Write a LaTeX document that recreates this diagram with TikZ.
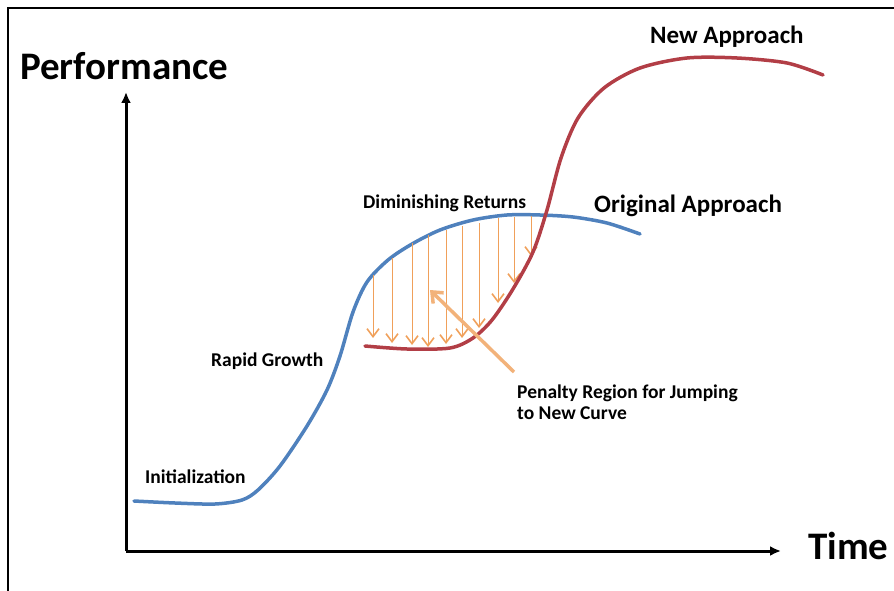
\documentclass[tikz,border=0pt]{standalone}
\usepackage{fontspec}
\setmainfont{Carlito}
\usetikzlibrary{arrows.meta}
\definecolor{origblue}{RGB}{79,129,189}
\definecolor{newred}{RGB}{178,62,70}
\definecolor{penorange}{RGB}{240,160,90}
\definecolor{jumporange}{RGB}{242,178,122}
\tikzset{
	lbl/.style={anchor=base west, inner sep=0pt, font=\bfseries\fontsize{19.5}{21}\selectfont},
	biglbl/.style={anchor=base west, inner sep=0pt, font=\bfseries\fontsize{39}{44}\selectfont},
	midlbl/.style={anchor=base west, inner sep=0pt, font=\bfseries\fontsize{25}{30}\selectfont},
	curve/.style={line width=3.5pt, line cap=round},
	drop/.style={penorange, line width=1pt, -{Straight Barb[length=8pt, width=12pt, line width=1.6pt]}},
}
\begin{document}
\begin{tikzpicture}[x=1pt, y=-1pt]
		\useasboundingbox (0,0) rectangle (894,591);
		\draw[line width=2pt] (8,591) -- (8,8) -- (894,8);

		% axes
		\coordinate (origin) at (126,551);
		\coordinate (ymax) at (126,92);
		\coordinate (xmax) at (781,551);
		\draw[line width=3pt, -{Latex[length=11pt, width=10pt]}] (origin) -- (ymax);
		\draw[line width=3pt, -{Latex[length=11pt, width=10pt]}] (origin) -- (xmax);
		\node[biglbl] (perf) at (20,80) {Performance};
		\node[biglbl] (time) at (808,559) {Time};

		% original approach
		\draw[curve, origblue] plot[smooth] coordinates {(134,501) (175,503) (215,504) (242,500)
			(258,490) (280,466) (307,426) (327,390) (340,356) (353,312) (367,282) (388,260)
			(412,244) (440,230) (473,220) (507,215) (540,215) (573,217) (607,223) (640,234)};

		% penalty arrows
		\foreach \x/\top/\bot in {373/275/338, 392/258/343, 412/243/345, 428/235/347, 446/230/344,
				462/226/338, 479/223/328, 498/218/303, 514/217/283, 531/216/256}
			\draw[drop] (\x,\top) -- (\x,\bot);

		% new approach
		\draw[curve, newred] plot[smooth] coordinates {(365,346) (407,349) (450,348) (473,338)
			(492,320) (513,289) (533,252) (547,210) (561,158) (578,118) (604,88)
			(640,68) (687,58) (737,58) (787,63) (823,75)};

		\node[midlbl] (new) at (650,44) {New Approach};
		\node[midlbl] (orig) at (594,212) {Original Approach};
		\node[lbl] (dim) at (363,208) {Diminishing Returns};
		\node[lbl] (rapid) at (211,366) {Rapid Growth};
		\node[lbl] (init) at (145,483) {Initialization};
		\node[lbl, align=left] (penalty) at (517,419) {Penalty Region for Jumping\\to New Curve};

		\coordinate (jumpfrom) at (514,372);
		\coordinate (jumpto) at (430,290);
		\draw[jumporange, line width=3.5pt, -{Straight Barb[length=9pt, width=15pt]}] (jumpfrom) -- (jumpto);
	\end{tikzpicture}
\end{document}
